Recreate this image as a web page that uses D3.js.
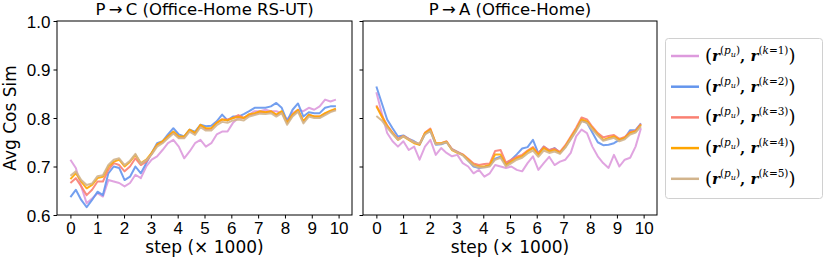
<!DOCTYPE html>
<html>
<head>
<meta charset="utf-8">
<script src="https://cdn.jsdelivr.net/npm/d3@7"></script>
<style>
  body { margin: 0; background: #fff; }
  svg { font-family: "DejaVu Sans", sans-serif; }
</style>
</head>
<body>
<svg id="chart" width="830" height="260"></svg>
<script>
// x positions (x1000 steps), 50 samples from 0 to 9.9
const steps = d3.range(50).map((i) => (i * 9.9) / 49);
const xTicks = [0, 1, 2, 3, 4, 5, 6, 7, 8, 9, 10];
const yTicks = [0.6, 0.7, 0.8, 0.9, 1.0];

const seriesNames = ["k=1", "k=2", "k=3", "k=4", "k=5"];
const colors = ["#dd9add", "#6495ed", "#fa8072", "#ffa500", "#d2b48c"];

const panelTitles = ["P\u2009\u2192\u2009C (Office-Home RS-UT)", "P\u2009\u2192\u2009A (Office-Home)"];

// P -> C (Office-Home RS-UT)
const pcK1 = [0.714,0.697,0.659,0.624,0.634,0.645,0.638,0.672,0.669,0.666,
  0.659,0.666,0.683,0.676,0.700,0.714,0.721,0.734,0.748,0.755,
  0.741,0.717,0.731,0.748,0.755,0.741,0.748,0.766,0.772,0.772,
  0.790,0.800,0.800,0.807,0.814,0.814,0.817,0.814,0.814,0.810,
  0.797,0.810,0.817,0.814,0.821,0.817,0.824,0.838,0.834,0.838];
const pcK2 = [0.637,0.652,0.631,0.616,0.631,0.648,0.641,0.686,0.700,0.697,
  0.672,0.679,0.700,0.686,0.707,0.728,0.748,0.752,0.766,0.779,
  0.766,0.762,0.776,0.772,0.786,0.783,0.784,0.793,0.807,0.795,
  0.803,0.803,0.808,0.814,0.821,0.821,0.821,0.824,0.831,0.821,
  0.793,0.817,0.830,0.803,0.812,0.810,0.810,0.821,0.824,0.824];
const pcK3 = [0.666,0.676,0.659,0.641,0.652,0.669,0.669,0.693,0.707,0.703,
  0.690,0.700,0.717,0.703,0.710,0.726,0.745,0.750,0.762,0.770,
  0.760,0.760,0.775,0.768,0.785,0.777,0.778,0.790,0.797,0.797,
  0.800,0.806,0.800,0.806,0.808,0.812,0.812,0.813,0.806,0.812,
  0.790,0.806,0.815,0.793,0.806,0.803,0.803,0.809,0.814,0.818];
const pcK4 = [0.674,0.686,0.669,0.655,0.662,0.676,0.679,0.700,0.710,0.714,
  0.700,0.710,0.724,0.707,0.714,0.728,0.745,0.752,0.762,0.772,
  0.762,0.762,0.776,0.769,0.786,0.779,0.779,0.790,0.797,0.795,
  0.800,0.802,0.800,0.808,0.810,0.814,0.812,0.814,0.807,0.814,
  0.790,0.807,0.817,0.793,0.807,0.803,0.803,0.810,0.815,0.819];
const pcK5 = [0.681,0.690,0.672,0.662,0.665,0.680,0.682,0.703,0.714,0.717,
  0.703,0.712,0.726,0.706,0.713,0.725,0.741,0.748,0.758,0.768,
  0.758,0.758,0.772,0.765,0.781,0.774,0.774,0.785,0.792,0.790,
  0.795,0.797,0.795,0.803,0.806,0.809,0.808,0.810,0.803,0.810,
  0.786,0.803,0.813,0.789,0.803,0.800,0.800,0.806,0.812,0.816];

// P -> A (Office-Home)
const paK1 = [0.853,0.810,0.769,0.752,0.741,0.752,0.734,0.741,0.714,0.741,
  0.755,0.724,0.738,0.728,0.721,0.724,0.707,0.700,0.686,0.693,
  0.679,0.686,0.703,0.700,0.697,0.700,0.693,0.690,0.707,0.721,
  0.693,0.707,0.720,0.703,0.710,0.714,0.728,0.762,0.776,0.769,
  0.741,0.721,0.707,0.697,0.724,0.700,0.714,0.718,0.741,0.779];
const paK2 = [0.865,0.831,0.797,0.779,0.762,0.764,0.757,0.752,0.745,0.767,
  0.774,0.745,0.746,0.750,0.736,0.730,0.724,0.712,0.700,0.697,
  0.699,0.702,0.716,0.720,0.705,0.714,0.725,0.737,0.740,0.755,
  0.727,0.741,0.733,0.738,0.728,0.741,0.757,0.776,0.795,0.790,
  0.770,0.750,0.744,0.745,0.748,0.755,0.758,0.775,0.775,0.789];
const paK3 = [0.826,0.805,0.785,0.770,0.757,0.763,0.757,0.750,0.746,0.770,
  0.778,0.747,0.748,0.752,0.736,0.730,0.725,0.716,0.706,0.703,
  0.705,0.706,0.732,0.734,0.708,0.714,0.720,0.724,0.733,0.740,
  0.727,0.741,0.734,0.737,0.730,0.744,0.762,0.780,0.801,0.797,
  0.782,0.769,0.760,0.763,0.765,0.757,0.761,0.771,0.774,0.788];
const paK4 = [0.824,0.803,0.783,0.769,0.755,0.762,0.755,0.748,0.745,0.769,
  0.776,0.748,0.748,0.751,0.734,0.728,0.724,0.714,0.703,0.700,
  0.700,0.703,0.725,0.725,0.703,0.710,0.717,0.721,0.731,0.738,
  0.724,0.738,0.731,0.734,0.728,0.741,0.759,0.776,0.797,0.793,
  0.779,0.766,0.755,0.759,0.762,0.755,0.759,0.769,0.772,0.786];
const paK5 = [0.804,0.795,0.780,0.767,0.755,0.762,0.756,0.750,0.747,0.766,
  0.773,0.746,0.747,0.750,0.735,0.729,0.723,0.712,0.702,0.698,
  0.698,0.700,0.714,0.718,0.700,0.707,0.714,0.718,0.727,0.733,
  0.720,0.733,0.728,0.731,0.726,0.739,0.756,0.773,0.793,0.790,
  0.776,0.764,0.753,0.756,0.759,0.752,0.756,0.766,0.770,0.783];

const panels = [
  { title: panelTitles[0], x0: 57, x1: 352, series: [pcK1, pcK2, pcK3, pcK4, pcK5], labels: true },
  { title: panelTitles[1], x0: 363, x1: 657, series: [paK1, paK2, paK3, paK4, paK5], labels: false },
];

const svg = d3.select("#chart");
const plotTop = 21, plotBottom = 215;
const y = d3.scaleLinear().domain([0.6, 1.0]).range([plotBottom, plotTop]);

panels.forEach((p) => {
  const x = d3.scaleLinear().domain([-0.5, 10.5]).range([p.x0, p.x1]);
  const g = svg.append("g");

  const line = d3.line()
    .x((d, i) => x(steps[i]))
    .y((d) => y(d));

  p.series.forEach((s, k) => {
    g.append("path")
      .attr("d", line(s))
      .attr("fill", "none")
      .attr("stroke", colors[k])
      .attr("stroke-width", 2)
      .attr("stroke-opacity", 0.9)
      .attr("stroke-linejoin", "round");
  });

  // frame
  g.append("rect")
    .attr("x", p.x0).attr("y", plotTop)
    .attr("width", p.x1 - p.x0).attr("height", plotBottom - plotTop)
    .attr("fill", "none").attr("stroke", "#000").attr("stroke-width", 1);

  const xAxis = g.append("g")
    .attr("transform", `translate(0,${plotBottom})`)
    .call(d3.axisBottom(x).tickValues(xTicks).tickSize(3.5).tickPadding(3).tickFormat(d3.format("d")));
  xAxis.select(".domain").remove();
  xAxis.selectAll("text").style("font-size", "17px").attr("fill", "#000");

  const yAxis = g.append("g")
    .attr("transform", `translate(${p.x0},0)`)
    .call(d3.axisLeft(y).tickValues(yTicks).tickSize(3.5).tickPadding(3)
      .tickFormat(p.labels ? d3.format(".1f") : () => ""));
  yAxis.select(".domain").remove();
  yAxis.selectAll("text").style("font-size", "17px").attr("fill", "#000").attr("dy", "0.36em");

  g.append("text")
    .attr("x", (p.x0 + p.x1) / 2).attr("y", 15)
    .attr("text-anchor", "middle")
    .style("font-size", "16.5px")
    .text(p.title);

  g.append("text")
    .attr("x", (p.x0 + p.x1) / 2).attr("y", 253)
    .attr("text-anchor", "middle")
    .style("font-size", "17px")
    .text("step (\u00d7 1000)");
});

svg.append("text")
  .attr("transform", `translate(16,${(plotTop + plotBottom) / 2}) rotate(-90)`)
  .attr("text-anchor", "middle")
  .style("font-size", "17px")
  .text("Avg Cos Sim");

// legend
const leg = svg.append("g");
leg.append("rect")
  .attr("x", 665.5).attr("y", 38.5).attr("width", 157).attr("height", 160)
  .attr("rx", 3).attr("fill", "#fff").attr("stroke", "#d0d0d0");

seriesNames.forEach((name, i) => {
  const cy = 56 + i * 30.7;
  leg.append("line")
    .attr("x1", 671).attr("x2", 699).attr("y1", cy).attr("y2", cy)
    .attr("stroke", colors[i]).attr("stroke-width", 2.5);
  const t = leg.append("text")
    .attr("x", 705).attr("y", cy + 5)
    .style("font-family", "'DejaVu Serif', serif")
    .style("font-size", "15px");
  t.append("tspan").style("font-size", "18px").attr("dy", 1).text("(");
  t.append("tspan").attr("dy", -1).style("font-weight", "bold").style("font-style", "italic").text("r");
  t.append("tspan").attr("dy", -7).style("font-size", "10.5px").text("(");
  t.append("tspan").style("font-size", "10.5px").style("font-style", "italic").text("p");
  t.append("tspan").attr("dy", 3).style("font-size", "8px").style("font-style", "italic").text("u");
  t.append("tspan").attr("dy", -3).style("font-size", "10.5px").text(")");
  t.append("tspan").attr("dy", 7).style("font-weight", "bold").text(", ");
  t.append("tspan").style("font-weight", "bold").style("font-style", "italic").text("r");
  t.append("tspan").attr("dy", -7).style("font-size", "10.5px").text("(");
  t.append("tspan").style("font-size", "10.5px").style("font-style", "italic").text("k");
  t.append("tspan").style("font-size", "10.5px").text("=" + name.slice(2) + ")");
  t.append("tspan").attr("dy", 8).style("font-size", "18px").text(")");
});
</script>
</body>
</html>
